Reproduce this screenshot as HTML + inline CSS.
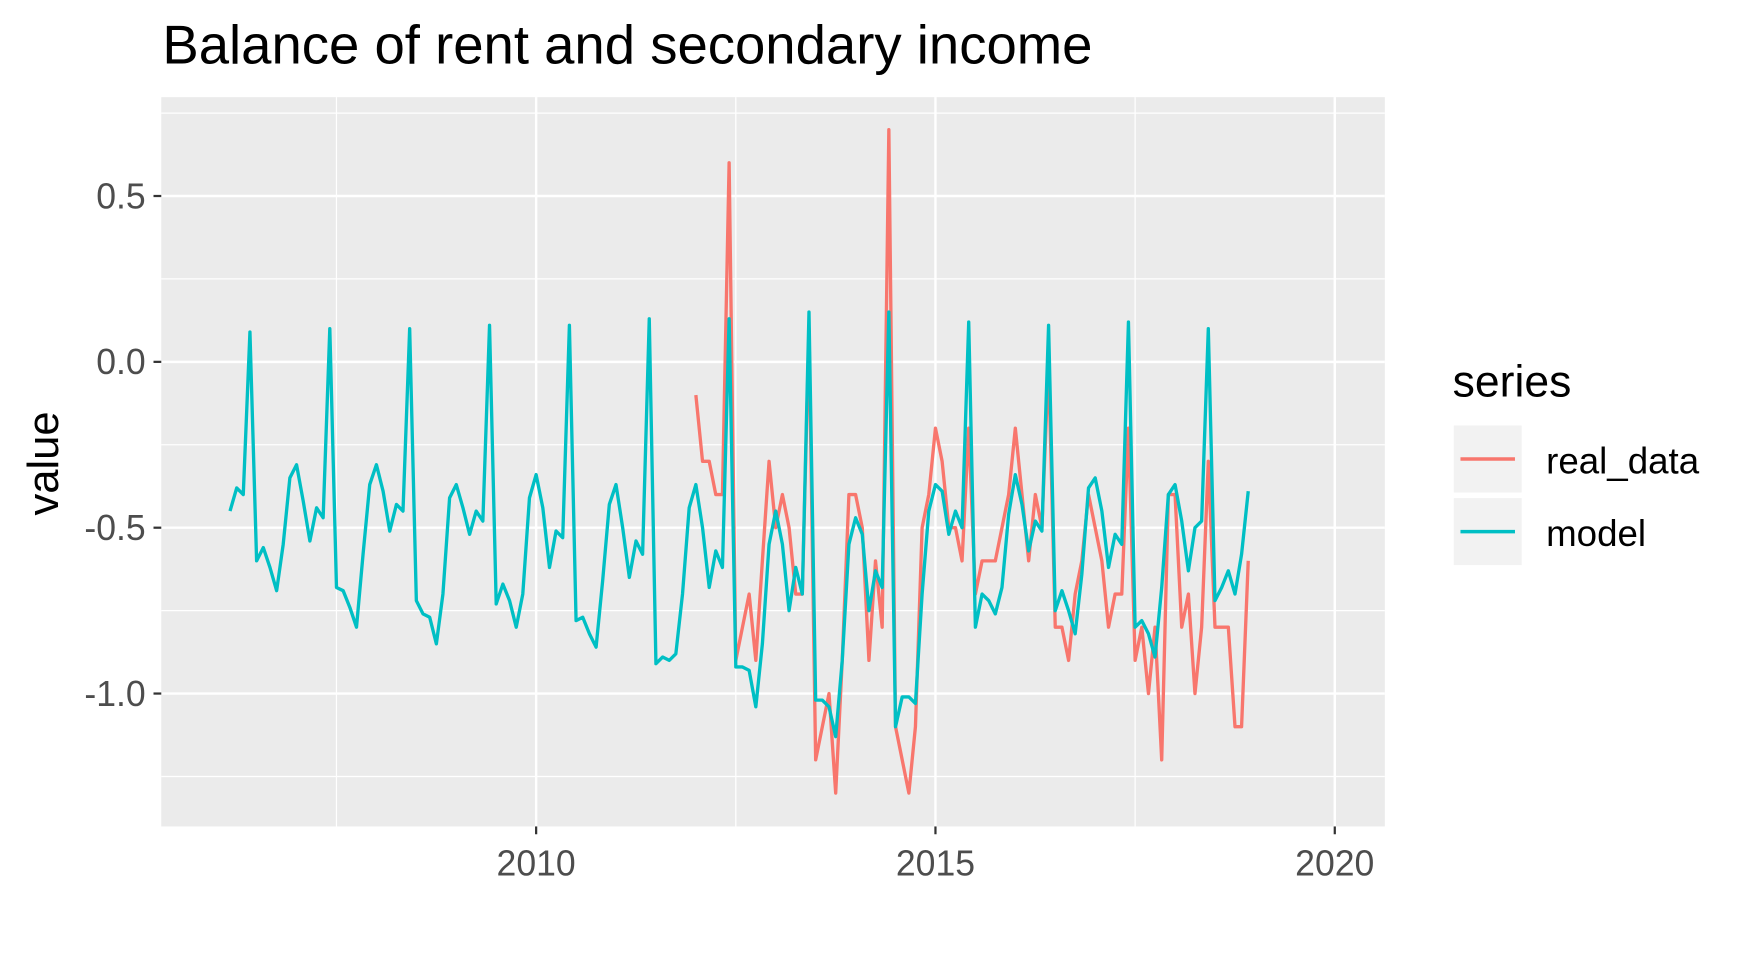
<!DOCTYPE html>
<html><head><meta charset="utf-8"><style>
html,body{margin:0;padding:0;background:#fff;}
svg{display:block;font-family:"Liberation Sans",Arial,sans-serif;}
</style></head><body>
<svg id="chart" width="1743" height="956" viewBox="0 0 1567 856" preserveAspectRatio="none" xmlns="http://www.w3.org/2000/svg">
<text x="146" y="57" font-size="49" fill="#000">Balance of rent and secondary income</text>
<rect x="145" y="87" width="1100" height="653" fill="#EBEBEB"/>
<g id="grid"></g>
<g id="series"></g>
<g id="axes"></g>
<text transform="translate(52,415) rotate(-90)" text-anchor="middle" font-size="39" fill="#000">value</text>
<g>
<text x="1306" y="355" font-size="40" fill="#000">series</text>
<rect x="1307" y="381" width="61" height="60" fill="#F2F2F2"/>
<line x1="1313" y1="411" x2="1362" y2="411" stroke="#F8766D" stroke-width="3.2"/>
<text x="1390" y="424" font-size="33" fill="#000">real_data</text>
<rect x="1307" y="446" width="61" height="60" fill="#F2F2F2"/>
<line x1="1313" y1="476" x2="1362" y2="476" stroke="#00BFC4" stroke-width="3.2"/>
<text x="1390" y="489" font-size="33" fill="#000">model</text>
</g>
</svg>
<script>
const modelStart = 2006 + 2/12;
const modelValues = [
-0.45,-0.38,-0.40,0.09,-0.60,-0.56,-0.62,-0.69,-0.55,-0.35,
-0.31,-0.42,-0.54,-0.44,-0.47,0.10,-0.68,-0.69,-0.74,-0.80,-0.58,-0.37,
-0.31,-0.39,-0.51,-0.43,-0.45,0.10,-0.72,-0.76,-0.77,-0.85,-0.70,-0.41,
-0.37,-0.44,-0.52,-0.45,-0.48,0.11,-0.73,-0.67,-0.72,-0.80,-0.70,-0.41,
-0.34,-0.44,-0.62,-0.51,-0.53,0.11,-0.78,-0.77,-0.82,-0.86,-0.66,-0.43,
-0.37,-0.50,-0.65,-0.54,-0.58,0.13,-0.91,-0.89,-0.90,-0.88,-0.70,-0.44,
-0.37,-0.50,-0.68,-0.57,-0.62,0.13,-0.92,-0.92,-0.93,-1.04,-0.85,-0.55,
-0.45,-0.55,-0.75,-0.62,-0.70,0.15,-1.02,-1.02,-1.04,-1.13,-0.90,-0.55,
-0.47,-0.52,-0.75,-0.63,-0.68,0.15,-1.10,-1.01,-1.01,-1.03,-0.70,-0.45,
-0.37,-0.39,-0.52,-0.45,-0.50,0.12,-0.80,-0.70,-0.72,-0.76,-0.68,-0.46,
-0.34,-0.43,-0.57,-0.48,-0.51,0.11,-0.75,-0.69,-0.75,-0.82,-0.64,-0.38,
-0.35,-0.45,-0.62,-0.52,-0.55,0.12,-0.80,-0.78,-0.82,-0.89,-0.68,-0.40,
-0.37,-0.48,-0.63,-0.50,-0.48,0.10,-0.72,-0.68,-0.63,-0.70,-0.58,-0.39
];
const realStart = 2012;
const realValues = [
-0.10,-0.30,-0.30,-0.40,-0.40,0.60,-0.90,-0.80,-0.70,-0.90,-0.60,-0.30,
-0.50,-0.40,-0.50,-0.70,-0.70,0.10,-1.20,-1.10,-1.00,-1.30,-0.90,-0.40,
-0.40,-0.50,-0.90,-0.60,-0.80,0.70,-1.10,-1.20,-1.30,-1.10,-0.50,-0.40,
-0.20,-0.30,-0.50,-0.50,-0.60,-0.20,-0.70,-0.60,-0.60,-0.60,-0.50,-0.40,
-0.20,-0.40,-0.60,-0.40,-0.50,0.00,-0.80,-0.80,-0.90,-0.70,-0.60,-0.40,
-0.50,-0.60,-0.80,-0.70,-0.70,-0.20,-0.90,-0.80,-1.00,-0.80,-1.20,-0.40,
-0.40,-0.80,-0.70,-1.00,-0.80,-0.30,-0.80,-0.80,-0.80,-1.10,-1.10,-0.60
];
const xTicks = [2010, 2015, 2020];
const xMinor = [2007.5, 2012.5, 2017.5];
const yTicks = [0.5, 0.0, -0.5, -1.0];
const yTickLabels = ["0.5", "0.0", "-0.5", "-1.0"];
const yMinor = [0.75, 0.25, -0.25, -0.75, -1.25];

const X = t => 482 + (t - 2010) * 71.8;
const Y = v => 324 - v * 297;
const NS = "http://www.w3.org/2000/svg";
function mk(tag, attrs, parent){const e=document.createElementNS(NS,tag);for(const k in attrs)e.setAttribute(k,attrs[k]);parent.appendChild(e);return e;}
const grid = document.getElementById('grid'), axes = document.getElementById('axes'), series = document.getElementById('series');
yMinor.forEach(v=>{const l=mk('line',{x1:145,x2:1245,y1:Y(v),y2:Y(v),stroke:'#fff','stroke-width':1.1},grid);

});
xMinor.forEach(t=>{const l=mk('line',{x1:X(t),x2:X(t),y1:87,y2:740,stroke:'#fff','stroke-width':1.1},grid);

});
yTicks.forEach((v,i)=>{const l=mk('line',{x1:145,x2:1245,y1:Y(v),y2:Y(v),stroke:'#fff','stroke-width':2.2},grid);


const tk=mk('line',{x1:138,x2:145,y1:Y(v),y2:Y(v),stroke:'#333','stroke-width':2},axes);


const tx=mk('text',{x:131,y:Y(v)+11,'text-anchor':'end','font-size':32,fill:'#4D4D4D'},axes);
tx.textContent=yTickLabels[i];

});
xTicks.forEach(t=>{const l=mk('line',{x1:X(t),x2:X(t),y1:87,y2:740,stroke:'#fff','stroke-width':2.2},grid);


const tk=mk('line',{x1:X(t),x2:X(t),y1:740,y2:747,stroke:'#333','stroke-width':2},axes);


const tx=mk('text',{x:X(t),y:784,'text-anchor':'middle','font-size':32,fill:'#4D4D4D'},axes);
tx.textContent=String(t);

});
function drawLine(vals,start,color,name){
  const pts=vals.map((v,i)=>X(start+i/12).toFixed(1)+','+Y(v).toFixed(1)).join(' ');
  const p=mk('polyline',{points:pts,fill:'none',stroke:color,'stroke-width':3,'stroke-linejoin':'round'},series);
  
  
}
drawLine(realValues,realStart,'#F8766D','real-data-line');
drawLine(modelValues,modelStart,'#00BFC4','model-line');
</script>
</body></html>
